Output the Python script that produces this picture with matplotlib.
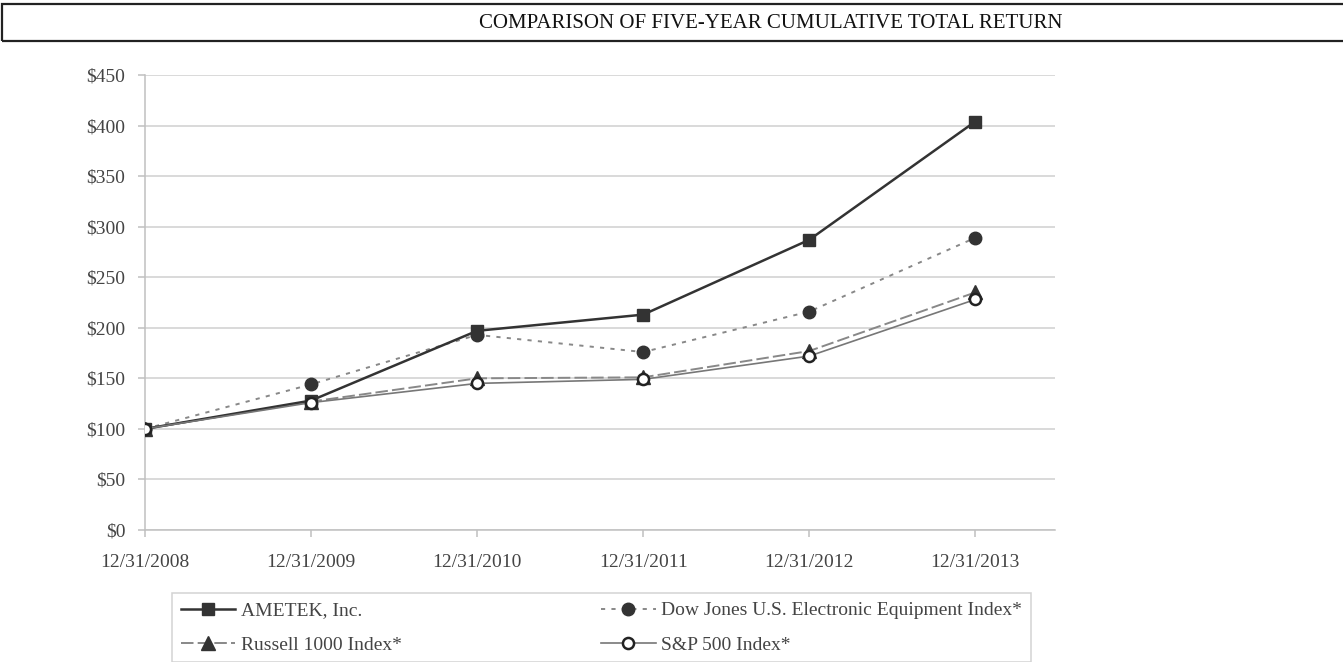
import matplotlib
matplotlib.use("Agg")
import matplotlib.pyplot as plt
from matplotlib.patches import Rectangle

plt.rcParams["font.family"] = ["Liberation Serif", "DejaVu Serif"]
plt.rcParams["lines.scale_dashes"] = False

# data
years = ["12/31/2008", "12/31/2009", "12/31/2010", "12/31/2011", "12/31/2012", "12/31/2013"]
ametek = [100, 128, 197, 213, 287, 404]
dow_jones = [100, 144, 193, 176, 216, 289]
russell = [100, 127, 150, 151, 177, 235]
sp500 = [100, 126, 145, 149, 172, 228]
y_ticks = [0, 50, 100, 150, 200, 250, 300, 350, 400, 450]

W, H = 1343, 662
fig = plt.figure(figsize=(W / 100, H / 100), dpi=100)
ax = fig.add_axes([145 / W, 1 - 530 / H, 910 / W, 455 / H])

x = list(range(len(years)))
l_am, = ax.plot(x, ametek, color="#333333", lw=1.8, marker="s", ms=8.5,
                mfc="#333333", mec="#333333", label="AMETEK, Inc.", zorder=5)
l_dj, = ax.plot(x, dow_jones, color="#888888", lw=1.4, dashes=(3, 4.5), marker="o", ms=9,
                mfc="#333333", mec="#333333",
                label="Dow Jones U.S. Electronic Equipment Index*", zorder=4)
l_ru, = ax.plot(x, russell, color="#888888", lw=1.4, dashes=(9, 3), marker="^", ms=10,
                mfc="#333333", mec="#333333", label="Russell 1000 Index*", zorder=3)
l_sp, = ax.plot(x, sp500, color="#777777", lw=1.2, marker="o", ms=8,
                mfc="white", mec="#222222", mew=1.8, label="S&P 500 Index*", zorder=6)

ax.set_xlim(0, 5.48)
ax.set_ylim(0, 450)
ax.set_xticks(x)
ax.set_xticklabels(years)
ax.set_yticks(y_ticks)
ax.set_yticklabels([f"${v}" for v in y_ticks])
ax.grid(axis="y", color="#d0d0d0", lw=1.1)
ax.set_axisbelow(True)
for side in ("top", "right"):
    ax.spines[side].set_visible(False)
for side in ("left", "bottom"):
    ax.spines[side].set_color("#c0c0c0")
    ax.spines[side].set_linewidth(1.1)
ax.tick_params(axis="both", colors="#c0c0c0", labelcolor="#444444", labelsize=14,
               length=5, width=1.1)
ax.tick_params(axis="y", pad=9)
ax.tick_params(axis="x", pad=12)

# column-major fill: AMETEK / Russell in column 1, Dow Jones / S&P in column 2
handles = [l_am, l_ru, l_dj, l_sp]
leg = fig.legend(handles, [h.get_label() for h in handles],
                 loc="upper left", ncol=2, mode="expand",
                 bbox_to_anchor=(172 / W, 1 - 593 / H, (1031 - 172) / W, 0),
                 fontsize=14, frameon=True, fancybox=False, borderaxespad=0,
                 handlelength=2.8, handletextpad=0.3, labelspacing=0.85,
                 borderpad=0.45)
leg.get_frame().set_edgecolor("#c8c8c8")
leg.get_frame().set_linewidth(1.1)
for t in leg.get_texts():
    t.set_color("#444444")

# title box across the top
fig.patches.append(Rectangle((2 / W, 1 - 41 / H), 1.2, 37 / H, transform=fig.transFigure,
                             fill=False, edgecolor="#222222", lw=1.6))
fig.text(771 / W, 1 - 23 / H, "COMPARISON OF FIVE-YEAR CUMULATIVE TOTAL RETURN",
         ha="center", va="center", fontsize=15, color="#111111")

fig.savefig("out.png", dpi=100)
